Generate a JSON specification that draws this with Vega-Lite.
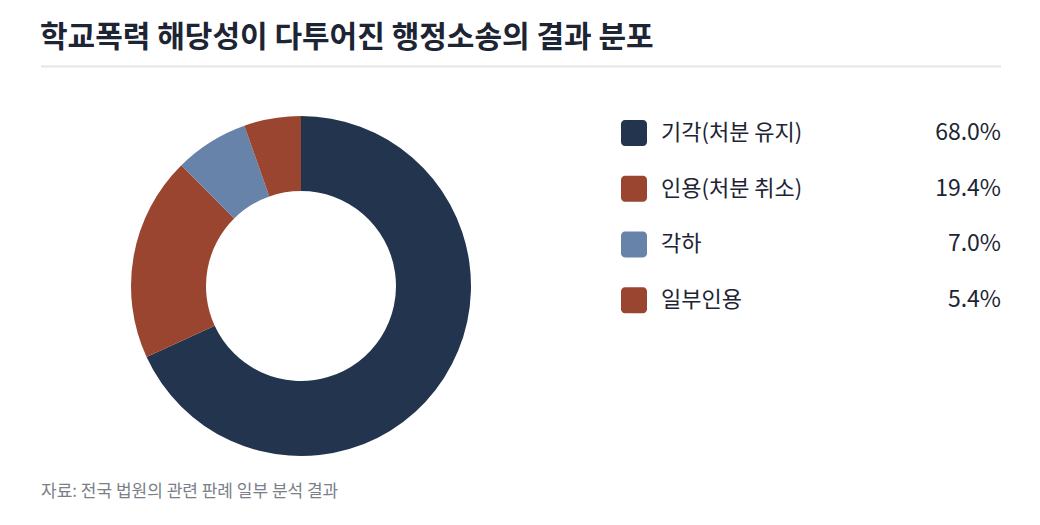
{
  "$schema": "https://vega.github.io/schema/vega-lite/v6.json",
  "padding": {"left": 40, "top": 22, "right": 40, "bottom": 10},
  "background": "white",
  "title": {
    "text": "학교폭력 해당성이 다투어진 행정소송의 결과 분포",
    "anchor": "start", "font": "Noto Sans CJK KR", "fontSize": 30, "fontWeight": "bold",
    "color": "#1d2433", "offset": 13
  },
  "datasets": {
    "results": [
      {"label": "기각(처분 유지)", "share": 0.68, "ord": 1},
      {"label": "인용(처분 취소)", "share": 0.194, "ord": 2},
      {"label": "각하", "share": 0.07, "ord": 3},
      {"label": "일부인용", "share": 0.054, "ord": 4}
    ]
  },
  "spacing": 37,
  "vconcat": [
    {
      "width": 960, "height": 1,
      "data": {"values": [{"k": "sep"}]},
      "mark": {"type": "rule", "color": "#e3e5ea", "strokeWidth": 2},
      "encoding": {"y": {"field": "k", "type": "nominal", "axis": null}}
    },
    {
      "title": {
        "text": "자료: 전국 법원의 관련 판례 일부 분석 결과",
        "orient": "bottom", "anchor": "start", "font": "Noto Sans CJK KR",
        "fontSize": 17, "fontWeight": "normal", "color": "#7a7f8a", "offset": 17
      },
      "spacing": 60,
      "hconcat": [
        {
          "width": 520, "height": 362,
          "data": {"name": "results"},
          "mark": {"type": "arc", "innerRadius": 95, "outerRadius": 170},
          "encoding": {
            "theta": {"field": "share", "type": "quantitative", "stack": true},
            "order": {"field": "ord", "type": "quantitative"},
            "color": {
              "field": "label", "type": "nominal", "legend": null,
              "scale": {
                "domain": ["기각(처분 유지)", "인용(처분 취소)", "각하", "일부인용"],
                "range": ["#23344f", "#9a4530", "#6883aa", "#9a4530"]
              }
            }
          }
        },
        {
          "width": 380, "height": 223,
          "data": {"name": "results"},
          "encoding": {
            "y": {
              "field": "label", "type": "nominal", "axis": null,
              "sort": ["기각(처분 유지)", "인용(처분 취소)", "각하", "일부인용"],
              "scale": {"paddingInner": 0, "paddingOuter": 0}
            }
          },
          "layer": [
            {
              "mark": {"type": "bar", "size": 26, "cornerRadius": 4},
              "encoding": {
                "x": {"datum": 0, "type": "quantitative", "axis": null, "scale": {"domain": [0, 380], "nice": false}},
                "x2": {"datum": 26},
                "color": {
                  "field": "label", "type": "nominal", "legend": null,
                  "scale": {
                    "domain": ["기각(처분 유지)", "인용(처분 취소)", "각하", "일부인용"],
                    "range": ["#23344f", "#9a4530", "#6883aa", "#9a4530"]
                  }
                }
              }
            },
            {
              "mark": {"type": "text", "align": "left", "baseline": "middle", "font": "Noto Sans CJK KR", "fontSize": 22, "color": "#1d2433"},
              "encoding": {
                "x": {"datum": 40, "type": "quantitative"},
                "text": {"field": "label", "type": "nominal"}
              }
            },
            {
              "mark": {"type": "text", "align": "right", "baseline": "middle", "font": "Noto Sans CJK KR", "fontSize": 23, "color": "#1d2433"},
              "encoding": {
                "x": {"datum": 380, "type": "quantitative"},
                "text": {"field": "share", "type": "quantitative", "format": ".1%"}
              }
            }
          ]
        }
      ]
    }
  ],
  "config": {
    "view": {"stroke": null},
    "font": "Noto Sans CJK KR"
  }
}
